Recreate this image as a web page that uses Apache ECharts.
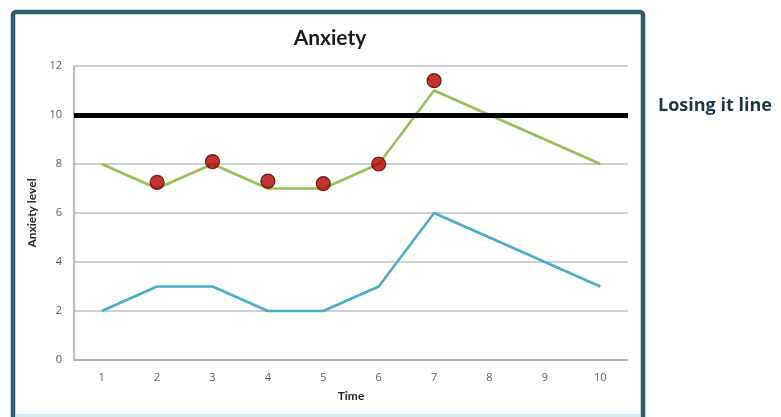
<!DOCTYPE html>
<html>
<head>
<meta charset="utf-8">
<script src="https://cdn.jsdelivr.net/npm/echarts@6/dist/echarts.min.js"></script>
<style>
  html, body { margin: 0; padding: 0; background: #ffffff; }
  #chart { width: 781px; height: 417px; }
</style>
</head>
<body>
<div id="chart"></div>
<script>
// Anxiety over time, with the "losing it" threshold
const timePoints = ['1', '2', '3', '4', '5', '6', '7', '8', '9', '10'];
const upperAnxiety = [8, 7, 8, 7, 7, 8, 11, 10, 9, 8];
const lowerAnxiety = [2, 3, 3, 2, 2, 3, 6, 5, 4, 3];
const observed = [null, 7.25, 8.1, 7.3, 7.2, 8.0, 11.4, null, null, null];
const losingItLevel = 10;
const yTicks = [0, 2, 4, 6, 8, 10, 12];

const FONT = 'Lato, "Open Sans", sans-serif';
const chart = echarts.init(document.getElementById('chart'));

chart.setOption({
  backgroundColor: '#ffffff',
  animation: false,
  title: {
    text: 'Anxiety',
    left: 325,
    textAlign: 'center',
    top: 23,
    textStyle: { fontFamily: FONT, fontSize: 21, fontWeight: 'bold', color: '#1a1a1a' }
  },
  grid: { left: 74, right: 153, top: 66, bottom: 57 },
  xAxis: {
    type: 'category',
    data: timePoints,
    boundaryGap: true,
    name: 'Time',
    nameLocation: 'middle',
    nameGap: 30,
    nameTextStyle: { fontFamily: FONT, fontSize: 12, fontWeight: 'bold', color: '#262626' },
    axisLine: { lineStyle: { color: '#a6a6a6', width: 1.5 } },
    axisTick: { show: false },
    axisLabel: { fontFamily: '"Open Sans", sans-serif', fontSize: 11, color: '#595959', margin: 12 }
  },
  yAxis: {
    type: 'value',
    min: yTicks[0],
    max: yTicks[yTicks.length - 1],
    interval: 2,
    name: 'Anxiety level',
    nameLocation: 'middle',
    nameGap: 31,
    nameTextStyle: { fontFamily: FONT, fontSize: 12, fontWeight: 'bold', color: '#262626' },
    axisLine: { show: true, lineStyle: { color: '#a6a6a6', width: 1.5 } },
    axisTick: { show: false },
    axisLabel: { fontFamily: '"Open Sans", sans-serif', fontSize: 11, color: '#595959', margin: 12 },
    splitLine: { lineStyle: { color: '#bfbfbf', width: 1.5 } }
  },
  series: [
    {
      name: 'Upper',
      type: 'line',
      data: upperAnxiety,
      symbol: 'none',
      lineStyle: { color: '#9bbb59', width: 2.5 },
      z: 3,
      markLine: {
        silent: true,
        symbol: 'none',
        label: { show: false },
        lineStyle: { color: '#000000', width: 5, type: 'solid' },
        data: [{ yAxis: losingItLevel }]
      }
    },
    {
      name: 'Lower',
      type: 'line',
      data: lowerAnxiety,
      symbol: 'none',
      lineStyle: { color: '#4bacc6', width: 2.5 },
      z: 3
    },
    {
      name: 'Observed',
      type: 'scatter',
      data: observed,
      symbol: 'circle',
      symbolSize: 14,
      itemStyle: { color: '#b80000', borderColor: '#4a0000', borderWidth: 1.2 },
      z: 5
    }
  ],
  graphic: [
    {
      type: 'rect',
      shape: { x: 13, y: 12, width: 630, height: 430, r: 3 },
      style: { fill: 'none', stroke: '#2b5d6b', lineWidth: 4.5 },
      z: 100
    },
    {
      type: 'rect',
      shape: { x: 16, y: 414, width: 624, height: 3 },
      style: { fill: '#d4ecef' },
      z: 90
    },
    {
      type: 'text',
      left: 658,
      top: 97,
      style: {
        text: 'Losing it line',
        font: 'bold 18px "Open Sans", sans-serif',
        fill: '#1f3542'
      }
    }
  ]
});
</script>
</body>
</html>
